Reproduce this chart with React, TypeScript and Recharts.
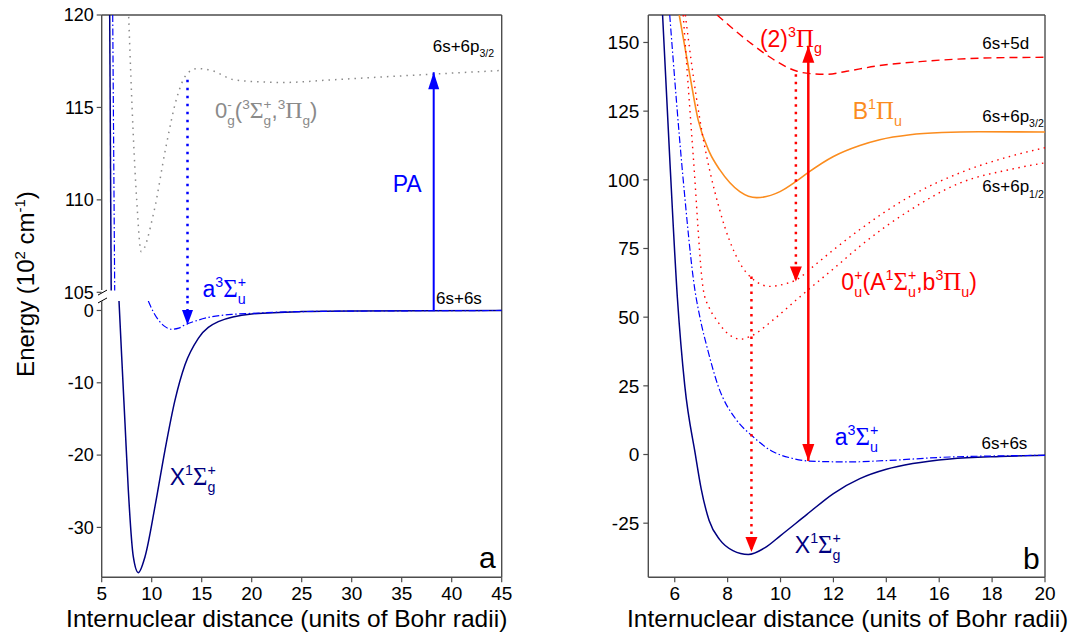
import React from 'react';
import { LineChart, Line, XAxis, YAxis, ReferenceLine, ReferenceDot } from 'recharts';

const SANS = "'Liberation Sans', Arial, Helvetica, sans-serif";
const SERIF = "'Liberation Serif', 'Times New Roman', serif";
const FRAME = '#4d4d4d';
const NAVY = '#000080';
const BLUE = '#0000ff';
const RED = '#ff0000';
const ORANGE = '#fb8c1e';
const GRAY = '#8a8a8a';

// ---------- Panel a ----------
const aXTicks = [5, 10, 15, 20, 25, 30, 35, 40, 45];
const aUpperTicks = [105, 110, 115, 120];
const aLowerTicks = [-30, -20, -10, 0];
const aUpperDomain = [104.53, 120];
const aLowerDomain = [-36.9, 1.31];

// steep walls visible above the axis break
const aXWallR = [5.8, 5.95];
const aXWallE = [120, 105.1];
const aA3WallR = [6.1, 6.3];
const aA3WallE = [120, 105.1];

// X1Sigma_g+ (lower part)
const aXR = [6.73, 7.0, 7.33, 7.66, 8.16, 8.66, 9.33, 10.33, 11.33, 12.33, 13.33, 14.66, 16.66, 20, 25, 30, 45];
const aXE = [1.31, -6.4, -15.6, -24.8, -34.05, -36.26, -34.05, -27.1, -19.3, -12.4, -7.5, -3.85, -1.55, -0.48, -0.15, -0.06, 0];

// a3Sigma_u+ (lower part)
const aA3R = [9.66, 10.2, 10.66, 11.3, 12.0, 12.7, 13.33, 14.5, 16, 18, 20, 25, 45];
const aA3E = [1.31, -0.3, -1.3, -2.2, -2.6, -2.45, -2.0, -1.4, -0.86, -0.55, -0.4, -0.15, 0];

// 0g-(3Sigma_g+, 3Pi_g)
const aGrayR = [7.7, 8.15, 8.5, 8.95, 10.2, 11.4, 12.5, 13.5, 14.5, 16.0, 18.2, 21, 23.2, 28.2, 36.4, 45];
const aGrayE = [119.9, 113.6, 110, 107.2, 109.3, 112.8, 115.5, 116.8, 117.1, 117.0, 116.5, 116.38, 116.35, 116.5, 116.75, 117.0];

// arrows panel a
const aPaR = 38.2;
const aPaE = [0, 116.9];
const aDownR = 13.58;
const aDownE = [116.5, -2.0];

// ---------- Panel b ----------
const bXTicks = [6, 8, 10, 12, 14, 16, 18, 20];
const bYTicks = [-25, 0, 25, 50, 75, 100, 125, 150];
const bXDomain = [5, 20];
const bYDomain = [-44.7, 160];

const bXR = [5.54, 5.81, 6.1, 6.38, 6.78, 7.0, 7.3, 7.7, 8.2, 8.78, 9.4, 10.0, 11.0, 12.0, 13.0, 14.0, 15.0, 16.4, 18.3, 20];
const bXE = [160, 108, 57, 25, 0, -12.5, -24, -31, -35, -36.4, -34.0, -29.5, -21.8, -14.2, -8.8, -5.4, -3.3, -1.6, -0.7, -0.3];

const bA3R = [5.81, 6.32, 6.76, 6.95, 7.25, 7.64, 8.34, 8.9, 9.72, 10.4, 11.1, 12.6, 14.0, 16.4, 18.3, 20];
const bA3E = [160, 100, 60, 50, 38, 25, 12.5, 7, 1, -1.3, -2.4, -2.7, -2.2, -0.9, -0.5, -0.3];

const bBR = [6.17, 6.58, 6.88, 7.33, 7.7, 8.46, 9.1, 9.98, 10.6, 11.05, 12.0, 13.0, 13.75, 14.9, 16.1, 17.5, 20];
const bBE = [160, 137.6, 122, 109.7, 103.7, 95.7, 93.5, 95.7, 99.5, 102.7, 108.5, 112.5, 114.6, 116.4, 117.2, 117.5, 117.4];

const b0uHiR = [6.4, 6.7, 6.95, 7.7, 8.46, 9.0, 9.6, 10.2, 10.58, 11.24, 12.0, 13.0, 14.9, 16.8, 18.7, 20];
const b0uHiE = [160, 137.8, 122, 89, 69.7, 63.5, 61.2, 62.2, 63.5, 68.5, 74.5, 81.9, 94, 102.6, 108.6, 111.7];

const b0uLoR = [6.32, 6.7, 7.08, 7.3, 7.58, 7.9, 8.5, 8.9, 9.72, 10.6, 11.05, 12.0, 13.0, 14.9, 16.8, 18.7, 20];
const b0uLoE = [160, 108.6, 60, 53.5, 49, 45, 42, 43.2, 49, 56.3, 60, 67.6, 75.8, 89, 98.9, 103.8, 106.2];

const b2PiR = [7.6, 8.84, 9.72, 10.6, 11.2, 11.74, 12.5, 13.6, 15.5, 18.0, 20];
const b2PiE = [160, 150, 143.9, 139.6, 138.6, 138.4, 139.5, 141.4, 143.2, 144.4, 144.6];

const bSolidR = 11.05;
const bSolidE = [-2.4, 148.8];
const bDot1R = 10.58;
const bDot1E = [138.4, 63];
const bDot2R = 8.9;
const bDot2E = [64.8, -35.5];

// ---------- helpers ----------
const pts = (R: number[], E: number[]) => R.map((r, i) => ({ x: r, y: E[i] }));
const vert = (r: number, a: number, b: number) => [{ x: r, y: a }, { x: r, y: b }];

type Part = { t?: string; k?: string; sub?: string; sup?: string };
const T = (s: string): Part => ({ t: s });
const SP = (s: string): Part => ({ t: s, k: 'sup' });
const SB = (s: string): Part => ({ t: s, k: 'sub' });
const G = (s: string): Part => ({ t: s, k: 'G' });
const ST = (a: string, b: string): Part => ({ sub: a, sup: b });
const CW: Record<string, number> = { g: 0.556, u: 0.556, '+': 0.584, '-': 0.333 };

function Rich({ x, y, size, fill, parts, anchor = 'start' }: any) {
  const supY = -0.42 * size;
  const subY = 0.3 * size;
  const small = 0.62 * size;
  let cur = 0;
  let pend = 0;
  const spans: any[] = [];
  (parts as Part[]).forEach((p, i) => {
    if (p.sub !== undefined) {
      const ws = (CW[p.sub] || 0.556) * small;
      const wp = (CW[p.sup as string] || 0.556) * small;
      spans.push(
        <tspan key={i + 'a'} dx={pend} dy={subY - cur} fontSize={small} fontFamily={SANS}>{p.sub}</tspan>
      );
      cur = subY;
      spans.push(
        <tspan key={i + 'b'} dx={-ws} dy={supY - cur} fontSize={small} fontFamily={SANS}>{p.sup}</tspan>
      );
      cur = supY;
      pend = Math.max(0, ws - wp);
    } else {
      const k = p.k || 'n';
      const target = k === 'sup' ? supY : k === 'sub' ? subY : 0;
      const fs = k === 'sup' || k === 'sub' ? small : k === 'G' ? size * 1.08 : size;
      spans.push(
        <tspan key={i} dx={pend} dy={target - cur} fontSize={fs} fontFamily={k === 'G' ? SERIF : SANS}>{p.t}</tspan>
      );
      cur = target;
      pend = 0;
    }
  });
  return (
    <text x={x} y={y} fill={fill} fontSize={size} fontFamily={SANS} textAnchor={anchor}>
      {spans}
    </text>
  );
}

const note = (key: string, x: number, y: number, size: number, fill: string, parts: Part[], anchor = 'start') => (
  <ReferenceDot
    key={key}
    x={x}
    y={y}
    r={0}
    ifOverflow="visible"
    shape={(p: any) => <Rich x={p.cx} y={p.cy} size={size} fill={fill} parts={parts} anchor={anchor} />}
  />
);

const arrowDot = (color: string, w: number, h: number, ends: Record<number, string>) => (p: any) => {
  const dir = ends[p.index];
  if (!dir || p.cx == null || p.cy == null) return <g key={'n' + p.index} />;
  const { cx, cy } = p;
  const by = dir === 'up' ? cy + h : cy - h;
  return <polygon key={'a' + p.index} points={`${cx},${cy} ${cx - w / 2},${by} ${cx + w / 2},${by}`} fill={color} />;
};

const curve = (key: string, data: any[], stroke: string, width: number, dash?: string, type: any = 'monotone', dot: any = false) => (
  <Line
    key={key}
    data={data}
    dataKey="y"
    type={type}
    stroke={stroke}
    strokeWidth={width}
    strokeDasharray={dash}
    dot={dot}
    activeDot={false}
    isAnimationActive={false}
  />
);

const tickStyle = { fontSize: 19, fill: '#000', fontFamily: SANS };
const tickStyleA = { fontSize: 18, fill: '#000', fontFamily: SANS };
const SIGMA = '\u03A3';
const PI = '\u03A0';

const xTitle = (dx: number) => (props: any) => {
  const vb = props.viewBox || { x: 0, y: 0, width: 0, height: 0 };
  return (
    <text x={vb.x + vb.width / 2 + dx} y={vb.y + 50} textAnchor="middle" fontSize={24.5} fontFamily={SANS} fill="#000">
      Internuclear distance (units of Bohr radii)
    </text>
  );
};

const yTitle = (props: any) => {
  const vb = props.viewBox || { x: 0, y: 0, width: 0, height: 0 };
  const cx = vb.x + 34;
  const cy = vb.y - 17;
  return (
    <text x={cx} y={cy} transform={`rotate(-90, ${cx}, ${cy})`} textAnchor="middle" fontSize={24} fontFamily={SANS} fill="#000">
      <tspan>Energy (10</tspan>
      <tspan dy={-9} fontSize={15}>2</tspan>
      <tspan dy={9}> cm</tspan>
      <tspan dy={-9} fontSize={15}>-1</tspan>
      <tspan dy={9}>)</tspan>
    </text>
  );
};

export default function App() {
  const upTop = aUpperDomain[0];
  const lowTop = aLowerDomain[1];
  return (
    <div style={{ position: 'absolute', left: 0, top: 0, width: 1074, height: 643, background: '#fff' }}>
      {/* Panel a, upper part */}
      <div style={{ position: 'absolute', left: 0, top: 0 }}>
        <LineChart width={540} height={643} margin={{ top: 15, right: 38.3, bottom: 342, left: 0 }}>
          <XAxis type="number" dataKey="x" domain={[5, 45]} allowDataOverflow hide />
          <YAxis
            type="number"
            domain={aUpperDomain}
            ticks={aUpperTicks}
            interval={0}
            allowDataOverflow
            width={101.7}
            axisLine={false}
            tickLine={{ stroke: FRAME, strokeWidth: 1.2 }}
            tickSize={5}
            tickMargin={3}
            tick={tickStyleA}
          />
          <ReferenceLine y={120} stroke={FRAME} strokeWidth={1.4} />
          <ReferenceLine x={45} stroke={FRAME} strokeWidth={1.4} />
          <ReferenceLine segment={[{ x: 5, y: 105.12 }, { x: 5, y: 120 }]} stroke={FRAME} strokeWidth={1.4} ifOverflow="visible" />
          <ReferenceLine segment={[{ x: 4.63, y: 104.85 }, { x: 5.53, y: 105.12 }]} stroke="#000" strokeWidth={1} ifOverflow="visible" />
          {curve('xw', pts(aXWallR, aXWallE), NAVY, 1.5, undefined, 'linear')}
          {curve('a3w', pts(aA3WallR, aA3WallE), BLUE, 1.2, '7 2.5 1.5 2.5', 'linear')}
          {curve('gray', pts(aGrayR, aGrayE), GRAY, 1.5, '1.5 5')}
          {curve('pa', vert(aPaR, upTop, aPaE[1]), BLUE, 2, undefined, 'linear', arrowDot(BLUE, 11, 17, { 1: 'up' }))}
          {curve('dn', vert(aDownR, aDownE[0], upTop), BLUE, 2.5, '2.5 5.5', 'linear')}
          {note('l1', 38.1, 118.0, 17, '#000', [T('6s+6p'), SB('3/2')])}
          {note('l2', 37.0, 110.44, 23, BLUE, [T('PA')], 'end')}
          {note('l3', 16.33, 114.41, 22, GRAY, [T('0'), ST('g', '-'), T('('), SP('3'), G(SIGMA), ST('g', '+'), T(','), SP('3'), G(PI), SB('g'), T(')')])}
          {note('l4', 15.08, 104.76, 23, BLUE, [T('a'), SP('3'), G(SIGMA), ST('u', '+')])}
        </LineChart>
      </div>

      {/* Panel a, lower part */}
      <div style={{ position: 'absolute', left: 0, top: 0 }}>
        <LineChart width={540} height={643} margin={{ top: 301, right: 38.3, bottom: 0, left: 0 }}>
          <XAxis
            type="number"
            dataKey="x"
            domain={[5, 45]}
            ticks={aXTicks}
            interval={0}
            allowDataOverflow
            height={65.7}
            axisLine={{ stroke: FRAME, strokeWidth: 1.4 }}
            tickLine={{ stroke: FRAME, strokeWidth: 1.2 }}
            tickSize={5}
            tickMargin={4}
            tick={tickStyle}
            label={xTitle(-15)}
          />
          <YAxis
            type="number"
            domain={aLowerDomain}
            ticks={aLowerTicks}
            interval={0}
            allowDataOverflow
            width={101.7}
            axisLine={{ stroke: FRAME, strokeWidth: 1.4 }}
            tickLine={{ stroke: FRAME, strokeWidth: 1.2 }}
            tickSize={5}
            tickMargin={3}
            tick={tickStyleA}
            label={yTitle}
          />
          <ReferenceLine x={45} stroke={FRAME} strokeWidth={1.4} />
          <ReferenceLine segment={[{ x: 4.63, y: 1.04 }, { x: 5.53, y: 1.73 }]} stroke="#000" strokeWidth={1} ifOverflow="visible" />
          {curve('x', pts(aXR, aXE), NAVY, 1.5)}
          {curve('a3', pts(aA3R, aA3E), BLUE, 1.2, '7 2.5 1.5 2.5')}
          {curve('pa', vert(aPaR, aPaE[0], lowTop), BLUE, 2, undefined, 'linear')}
          {curve('dn', vert(aDownR, lowTop, aDownE[1]), BLUE, 2.5, '2.5 5.5', 'linear', arrowDot(BLUE, 11, 15, { 1: 'down' }))}
          {note('m1', 38.43, 0.86, 17, '#000', [T('6s+6s')])}
          {note('m2', 11.8, -24.1, 23, NAVY, [T('X'), SP('1'), G(SIGMA), ST('g', '+')])}
          {note('m3', 44.4, -35.66, 30, '#000', [T('a')], 'end')}
        </LineChart>
      </div>

      {/* Panel b */}
      <div style={{ position: 'absolute', left: 0, top: 0 }}>
        <LineChart width={1074} height={643} margin={{ top: 15, right: 29, bottom: 0, left: 588.3 }}>
          <XAxis
            type="number"
            dataKey="x"
            domain={bXDomain}
            ticks={bXTicks}
            interval={0}
            allowDataOverflow
            height={65.7}
            axisLine={{ stroke: FRAME, strokeWidth: 1.4 }}
            tickLine={{ stroke: FRAME, strokeWidth: 1.2 }}
            tickSize={5}
            tickMargin={4}
            tick={tickStyle}
            label={xTitle(1)}
          />
          <YAxis
            type="number"
            domain={bYDomain}
            ticks={bYTicks}
            interval={0}
            allowDataOverflow
            width={60}
            axisLine={{ stroke: FRAME, strokeWidth: 1.4 }}
            tickLine={{ stroke: FRAME, strokeWidth: 1.2 }}
            tickSize={5}
            tickMargin={4}
            tick={tickStyle}
          />
          <ReferenceLine y={160} stroke={FRAME} strokeWidth={1.4} />
          <ReferenceLine x={20} stroke={FRAME} strokeWidth={1.4} />
          {curve('x', pts(bXR, bXE), NAVY, 1.5)}
          {curve('a3', pts(bA3R, bA3E), BLUE, 1.2, '7 2.5 1.5 2.5')}
          {curve('b', pts(bBR, bBE), ORANGE, 1.6)}
          {curve('hi', pts(b0uHiR, b0uHiE), RED, 1.4, '1.5 4.5')}
          {curve('lo', pts(b0uLoR, b0uLoE), RED, 1.4, '1.5 4.5')}
          {curve('pi', pts(b2PiR, b2PiE), RED, 1.4, '8 5')}
          {curve('s', vert(bSolidR, bSolidE[0], bSolidE[1]), RED, 2.5, undefined, 'linear', arrowDot(RED, 12, 17, { 0: 'down', 1: 'up' }))}
          {curve('d1', vert(bDot1R, bDot1E[0], bDot1E[1]), RED, 2.5, '2.5 5', 'linear', arrowDot(RED, 12, 15, { 1: 'down' }))}
          {curve('d2', vert(bDot2R, bDot2E[0], bDot2E[1]), RED, 2.5, '2.5 5', 'linear', arrowDot(RED, 12, 15, { 1: 'down' }))}
          {note('n1', 9.22, 148.5, 23, RED, [T('(2)'), SP('3'), G(PI), SB('g')])}
          {note('n2', 17.63, 147.6, 17, '#000', [T('6s+5d')])}
          {note('n3', 12.73, 122.1, 23, ORANGE, [T('B'), SP('1'), G(PI), SB('u')])}
          {note('n4', 17.63, 121.2, 17, '#000', [T('6s+6p'), SB('3/2')])}
          {note('n5', 17.63, 95.4, 17, '#000', [T('6s+6p'), SB('1/2')])}
          {note('n6', 12.3, 59.9, 23, RED, [T('0'), ST('u', '+'), T('(A'), SP('1'), G(SIGMA), ST('u', '+'), T(',b'), SP('3'), G(PI), SB('u'), T(')')])}
          {note('n7', 12.05, 3.5, 23, BLUE, [T('a'), SP('3'), G(SIGMA), ST('u', '+')])}
          {note('n8', 17.6, 1.9, 17, '#000', [T('6s+6s')])}
          {note('n9', 10.54, -35.9, 23, NAVY, [T('X'), SP('1'), G(SIGMA), ST('g', '+')])}
          {note('n10', 19.8, -41.8, 30, '#000', [T('b')], 'end')}
        </LineChart>
      </div>
    </div>
  );
}
